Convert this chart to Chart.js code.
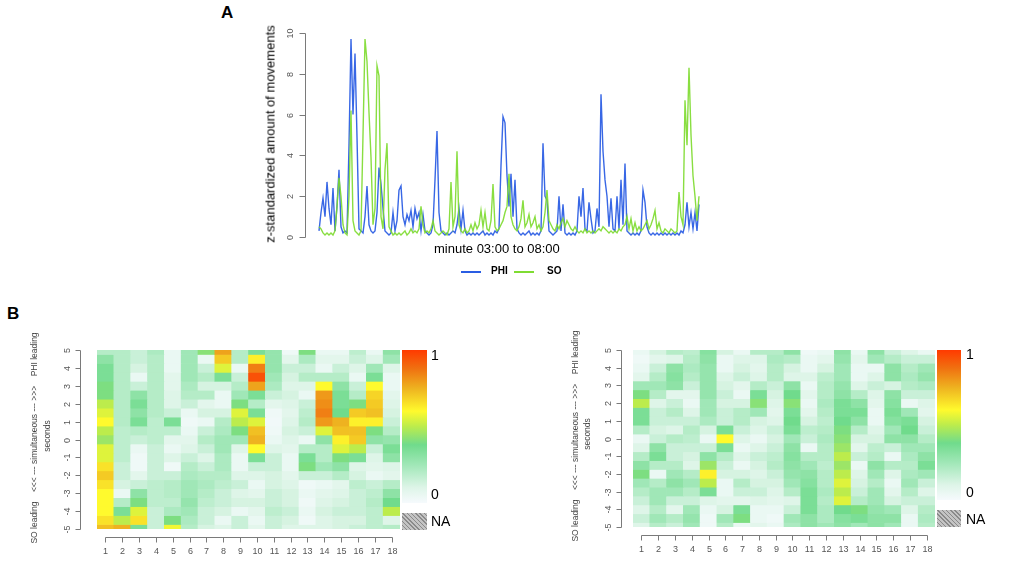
<!DOCTYPE html>
<html>
<head>
<meta charset="utf-8">
<script src="https://cdn.jsdelivr.net/npm/chart.js@4.4.1/dist/chart.umd.min.js"></script>
<style>
  body { margin: 0; background: #fff; font-family: "Liberation Sans", Arial, sans-serif; }
  #wrap { position: relative; width: 1021px; height: 567px; overflow: hidden; background: #fff; }
  #wrap canvas, #wrap .txt, #wrap .bar, #wrap .na, #wrap .key { position: absolute; }
  .txt { white-space: nowrap; color: #000; }
  .rot { transform: translate(-50%, -50%) rotate(-90deg); }
  .panel { font-weight: bold; font-size: 17px; }
  .na { background: repeating-linear-gradient(45deg, #8a8a8a 0 1px, #c4c4c4 1px 3px); }
  .key { height: 2px; width: 20px; }
</style>
</head>
<body>
<div id="wrap">
  <div class="txt panel" style="left:221px;top:3px;">A</div>
  <div class="txt panel" style="left:7px;top:304px;">B</div>

  <canvas id="lineChart" width="520" height="262" style="left:200px;top:0;"></canvas>
  <div class="txt rot" style="left:270px;top:134px;font-size:13px;">z-standardized amount of movements</div>
  <div class="txt" style="left:434px;top:241px;font-size:13px;">minute 03:00 to 08:00</div>
  <div class="key" style="left:461px;top:271px;background:#2a5de3;"></div>
  <div class="txt" style="left:491px;top:265px;font-size:10px;font-weight:bold;">PHI</div>
  <div class="key" style="left:514px;top:271px;background:#7fdc32;"></div>
  <div class="txt" style="left:547px;top:265px;font-size:10px;font-weight:bold;">SO</div>

  <canvas id="heatLeft" width="460" height="237" style="left:0;top:330px;"></canvas>
  <div class="txt rot" style="left:34px;top:438px;font-size:8.5px;color:#444;">SO leading&nbsp;&nbsp;&nbsp;&nbsp;&lt;&lt;&lt; --- simultaneous --- &gt;&gt;&gt;&nbsp;&nbsp;&nbsp;&nbsp;PHI leading</div>
  <div class="txt rot" style="left:47px;top:436px;font-size:8.5px;color:#444;">seconds</div>
  <div class="bar" id="barLeft" style="left:402px;top:350px;width:25px;height:153px;"></div>
  <div class="na" style="left:402px;top:513px;width:25px;height:17px;"></div>
  <div class="txt" style="left:431px;top:347px;font-size:14px;">1</div>
  <div class="txt" style="left:431px;top:486px;font-size:14px;">0</div>
  <div class="txt" style="left:431px;top:513px;font-size:14px;">NA</div>

  <canvas id="heatRight" width="400" height="237" style="left:560px;top:330px;"></canvas>
  <div class="txt rot" style="left:575px;top:436px;font-size:8.5px;color:#444;">SO leading&nbsp;&nbsp;&nbsp;&nbsp;&lt;&lt;&lt; --- simultaneous --- &gt;&gt;&gt;&nbsp;&nbsp;&nbsp;&nbsp;PHI leading</div>
  <div class="txt rot" style="left:587px;top:434px;font-size:8.5px;color:#444;">seconds</div>
  <div class="bar" id="barRight" style="left:937px;top:350px;width:24px;height:150px;"></div>
  <div class="na" style="left:937px;top:510px;width:24px;height:17px;"></div>
  <div class="txt" style="left:966px;top:346px;font-size:14px;">1</div>
  <div class="txt" style="left:966px;top:484px;font-size:14px;">0</div>
  <div class="txt" style="left:966px;top:511px;font-size:14px;">NA</div>
</div>

<script>
// ---- panel A : movement series (one value every sample along 03:00-08:00)
const phi = [
  0.3, 1.2, 1.9, 1.0, 2.7, 1.4, 0.6, 2.4, 0.3, 1.5, 3.3, 0.5, 0.2, 0.3, 0.2, 4.5, 9.7, 6.0, 9.0, 4.9,
  0.4, 0.3, 0.2, 1.0, 2.5, 0.6, 0.3, 0.2, 0.3, 1.2, 3.4, 2.6, 1.4, 0.3, 0.2, 0.1, 0.2, 1.2, 0.3, 0.8,
  2.3, 2.5, 1.0, 0.6, 1.1, 0.8, 1.3, 0.5, 1.4, 0.9, 1.2, 0.3, 1.1, 0.3, 0.2, 0.1, 0.2, 0.6, 2.8, 5.2,
  1.2, 0.3, 0.2, 0.1, 0.2, 0.1, 0.2, 0.3, 0.2, 0.6, 1.4, 0.4, 1.3, 0.3, 0.1, 0.2, 0.1, 0.2, 0.1, 0.2,
  0.1, 0.2, 0.3, 0.1, 0.2, 0.1, 0.2, 0.1, 0.3, 0.2, 0.4, 3.5, 5.9, 5.6, 3.0, 1.5, 3.1, 1.0, 2.8, 0.4,
  0.2, 0.1, 0.2, 0.1, 0.2, 0.3, 0.1, 0.2, 0.1, 0.2, 0.1, 0.3, 4.6, 2.0, 1.8, 0.3, 0.2, 0.1, 0.2, 0.3,
  2.0, 0.3, 1.6, 0.2, 0.1, 0.2, 0.1, 0.2, 0.1, 0.3, 2.0, 1.0, 2.4, 0.4, 0.3, 1.7, 0.9, 0.2, 0.3, 1.4,
  0.5, 7.0, 4.2, 2.8, 2.0, 0.5, 1.9, 0.4, 0.3, 2.0, 0.4, 2.8, 0.6, 3.6, 0.3, 0.2, 0.1, 0.2, 0.1, 0.2,
  0.1, 0.3, 2.3, 1.7, 0.5, 0.2, 0.1, 0.2, 0.1, 0.2, 0.1, 0.2, 0.1, 0.2, 0.1, 0.2, 0.1, 0.2, 0.1, 0.2,
  0.1, 0.3, 0.2, 0.6, 1.7, 0.5, 1.2, 0.4, 1.2, 0.3, 1.6
];
const so = [
  0.5, 0.4, 0.2, 0.1, 0.2, 0.1, 0.2, 0.1, 0.3, 1.5, 2.9, 2.0, 0.6, 0.2, 0.1, 2.0, 6.2, 0.8, 0.3, 0.2,
  0.1, 0.3, 5.0, 9.7, 8.6, 6.1, 3.9, 0.6, 1.4, 8.4, 7.9, 1.0, 0.4, 3.3, 4.6, 0.5, 0.3, 0.1, 0.2, 0.1,
  0.2, 0.1, 0.2, 0.3, 0.1, 0.2, 0.4, 0.2, 0.3, 0.2, 0.4, 1.5, 0.6, 0.2, 0.3, 0.2, 0.4, 0.8, 0.3, 0.2,
  0.1, 0.2, 0.3, 0.2, 0.1, 0.4, 2.7, 0.5, 1.0, 4.2, 0.6, 0.3, 0.2, 0.4, 0.2, 0.3, 0.6, 0.3, 0.7, 0.4,
  0.6, 1.3, 0.5, 1.2, 0.4, 0.3, 0.8, 2.6, 0.5, 0.3, 0.4, 0.6, 0.8, 1.2, 1.5, 3.1, 1.0, 0.6, 0.4, 0.3,
  0.5, 0.9, 1.8, 0.5, 0.7, 1.1, 0.5, 0.7, 1.0, 0.4, 0.6, 0.3, 0.5, 1.2, 2.3, 0.8, 0.6, 0.4, 0.3, 0.6,
  0.4, 0.7, 0.9, 0.5, 0.8, 0.6, 0.4, 0.3, 0.5, 0.3, 0.2, 0.3, 0.2, 0.4, 0.2, 0.3, 0.2, 0.3, 0.2, 0.3,
  0.4, 0.3, 0.5, 0.4, 0.3, 0.2, 0.3, 0.2, 0.3, 0.2, 0.4, 0.3, 0.5, 0.6, 1.0, 0.4, 0.9, 0.3, 0.7, 0.3,
  0.5, 0.3, 0.4, 0.6, 0.8, 0.4, 0.6, 0.9, 1.3, 0.4, 0.7, 0.3, 0.2, 0.4, 0.3, 0.2, 0.4, 0.3, 0.2, 0.3,
  2.2, 1.0, 0.6, 6.7, 4.5, 8.3, 5.0, 3.0, 2.0, 0.8, 2.0
];
const movementTicks = [0, 2, 4, 6, 8, 10];

// ---- panel B : cross-correlation heatmaps, one array per dyad (rows = seconds, top to bottom)
const seconds = [5, 4.5, 4, 3.5, 3, 2.5, 2, 1.5, 1, 0.5, 0, -0.5, -1, -1.5, -2, -2.5, -3, -3.5, -4, -4.5, -5];
const secondTicks = [-5, -4, -3, -2, -1, 0, 1, 2, 3, 4, 5];
const dyads = [1, 2, 3, 4, 5, 6, 7, 8, 9, 10, 11, 12, 13, 14, 15, 16, 17, 18];

const leftCols = [
  [0.2, 0.3, 0.35, 0.35, 0.4, 0.4, 0.5, 0.55, 0.6, 0.5, 0.45, 0.55, 0.55, 0.65, 0.7, 0.65, 0.6, 0.6, 0.6, 0.65, 0.72],
  [0.2, 0.2, 0.2, 0.2, 0.2, 0.2, 0.2, 0.2, 0.2, 0.18, 0.18, 0.18, 0.18, 0.15, 0.15, 0.12, 0.05, 0.2, 0.35, 0.5, 0.75],
  [0.15, 0.15, 0.12, 0.05, 0.15, 0.3, 0.35, 0.3, 0.35, 0.2, 0.15, 0.05, 0.03, 0.03, 0.08, 0.15, 0.3, 0.4, 0.55, 0.65, 0.35],
  [0.22, 0.2, 0.2, 0.2, 0.2, 0.2, 0.2, 0.2, 0.18, 0.18, 0.18, 0.15, 0.15, 0.15, 0.15, 0.18, 0.18, 0.18, 0.15, 0.15, 0.15],
  [0.05, 0.05, 0.05, 0.08, 0.08, 0.1, 0.1, 0.15, 0.35, 0.18, 0.08, 0.05, 0.1, 0.03, 0.15, 0.2, 0.2, 0.18, 0.22, 0.4, 0.58],
  [0.25, 0.25, 0.25, 0.25, 0.22, 0.2, 0.15, 0.05, 0.03, 0.05, 0.08, 0.1, 0.15, 0.2, 0.22, 0.25, 0.25, 0.28, 0.25, 0.22, 0.2],
  [0.42, 0.05, 0.15, 0.2, 0.12, 0.2, 0.08, 0.12, 0.05, 0.15, 0.2, 0.15, 0.1, 0.15, 0.2, 0.22, 0.2, 0.18, 0.15, 0.15, 0.12],
  [0.78, 0.7, 0.55, 0.35, 0.12, 0.05, 0.05, 0.12, 0.2, 0.22, 0.25, 0.25, 0.22, 0.22, 0.2, 0.18, 0.15, 0.15, 0.12, 0.05, 0.1],
  [0.2, 0.2, 0.05, 0.15, 0.2, 0.25, 0.4, 0.55, 0.5, 0.4, 0.25, 0.1, 0.05, 0.05, 0.1, 0.15, 0.1, 0.12, 0.05, 0.15, 0.15],
  [0.35, 0.62, 0.85, 0.95, 0.78, 0.35, 0.2, 0.35, 0.55, 0.72, 0.75, 0.6, 0.35, 0.15, 0.1, 0.05, 0.08, 0.12, 0.08, 0.05, 0.08],
  [0.28, 0.28, 0.28, 0.25, 0.22, 0.15, 0.08, 0.03, 0.02, 0.03, 0.05, 0.1, 0.15, 0.15, 0.12, 0.12, 0.15, 0.15, 0.18, 0.15, 0.15],
  [0.03, 0.08, 0.15, 0.12, 0.1, 0.12, 0.1, 0.08, 0.1, 0.12, 0.1, 0.08, 0.05, 0.05, 0.08, 0.1, 0.12, 0.12, 0.15, 0.12, 0.1],
  [0.4, 0.22, 0.15, 0.2, 0.1, 0.05, 0.15, 0.18, 0.2, 0.15, 0.05, 0.2, 0.35, 0.4, 0.15, 0.03, 0.05, 0.03, 0.05, 0.03, 0.1],
  [0.05, 0.08, 0.05, 0.2, 0.6, 0.8, 0.82, 0.85, 0.8, 0.55, 0.3, 0.2, 0.2, 0.25, 0.15, 0.05, 0.08, 0.1, 0.12, 0.1, 0.1],
  [0.05, 0.08, 0.15, 0.2, 0.3, 0.35, 0.35, 0.38, 0.75, 0.72, 0.62, 0.55, 0.4, 0.3, 0.2, 0.08, 0.1, 0.12, 0.15, 0.12, 0.12],
  [0.18, 0.15, 0.1, 0.05, 0.15, 0.2, 0.4, 0.7, 0.62, 0.72, 0.7, 0.5, 0.35, 0.1, 0.12, 0.18, 0.15, 0.15, 0.15, 0.12, 0.15],
  [0.05, 0.1, 0.25, 0.35, 0.6, 0.68, 0.7, 0.72, 0.62, 0.4, 0.3, 0.15, 0.1, 0.08, 0.05, 0.15, 0.18, 0.2, 0.18, 0.18, 0.18],
  [0.3, 0.25, 0.1, 0.05, 0.05, 0.08, 0.1, 0.12, 0.15, 0.2, 0.28, 0.35, 0.3, 0.1, 0.08, 0.2, 0.3, 0.38, 0.5, 0.1, 0.2]
];
const rightCols = [
  [0.05, 0.03, 0.05, 0.08, 0.25, 0.4, 0.5, 0.35, 0.35, 0.2, 0.05, 0.1, 0.2, 0.3, 0.4, 0.25, 0.2, 0.15, 0.1, 0.15, 0.1],
  [0.12, 0.08, 0.15, 0.2, 0.25, 0.2, 0.1, 0.15, 0.15, 0.12, 0.15, 0.3, 0.35, 0.2, 0.05, 0.2, 0.25, 0.25, 0.2, 0.25, 0.2],
  [0.2, 0.1, 0.3, 0.32, 0.3, 0.08, 0.15, 0.2, 0.15, 0.1, 0.2, 0.15, 0.15, 0.2, 0.25, 0.3, 0.25, 0.15, 0.08, 0.2, 0.15],
  [0.18, 0.2, 0.22, 0.2, 0.15, 0.08, 0.05, 0.1, 0.15, 0.2, 0.18, 0.15, 0.12, 0.1, 0.2, 0.25, 0.2, 0.15, 0.25, 0.28, 0.25],
  [0.32, 0.3, 0.28, 0.28, 0.28, 0.28, 0.25, 0.25, 0.22, 0.12, 0.05, 0.15, 0.3, 0.45, 0.62, 0.5, 0.35, 0.1, 0.05, 0.03, 0.03],
  [0.12, 0.05, 0.05, 0.1, 0.12, 0.15, 0.12, 0.15, 0.15, 0.35, 0.6, 0.35, 0.2, 0.15, 0.12, 0.05, 0.05, 0.08, 0.12, 0.25, 0.2],
  [0.05, 0.1, 0.12, 0.15, 0.08, 0.05, 0.12, 0.2, 0.2, 0.15, 0.1, 0.05, 0.1, 0.05, 0.12, 0.2, 0.15, 0.08, 0.35, 0.4, 0.05],
  [0.2, 0.1, 0.08, 0.1, 0.2, 0.35, 0.42, 0.25, 0.12, 0.1, 0.05, 0.1, 0.15, 0.12, 0.1, 0.12, 0.15, 0.1, 0.05, 0.05, 0.08],
  [0.2, 0.22, 0.2, 0.2, 0.15, 0.12, 0.1, 0.08, 0.1, 0.15, 0.12, 0.15, 0.18, 0.2, 0.15, 0.12, 0.1, 0.08, 0.05, 0.03, 0.05],
  [0.3, 0.2, 0.12, 0.1, 0.3, 0.38, 0.42, 0.35, 0.38, 0.35, 0.25, 0.3, 0.32, 0.3, 0.28, 0.25, 0.2, 0.1, 0.15, 0.25, 0.22],
  [0.03, 0.05, 0.05, 0.1, 0.05, 0.08, 0.05, 0.08, 0.12, 0.18, 0.15, 0.05, 0.2, 0.25, 0.3, 0.32, 0.35, 0.35, 0.35, 0.3, 0.3],
  [0.05, 0.08, 0.12, 0.18, 0.2, 0.2, 0.22, 0.2, 0.18, 0.2, 0.22, 0.2, 0.2, 0.18, 0.2, 0.2, 0.22, 0.2, 0.22, 0.22, 0.25],
  [0.3, 0.28, 0.25, 0.25, 0.28, 0.3, 0.35, 0.35, 0.38, 0.4, 0.42, 0.45, 0.5, 0.45, 0.5, 0.55, 0.5, 0.55, 0.38, 0.32, 0.3],
  [0.05, 0.08, 0.05, 0.05, 0.1, 0.2, 0.3, 0.35, 0.3, 0.2, 0.12, 0.08, 0.15, 0.05, 0.1, 0.12, 0.15, 0.2, 0.4, 0.35, 0.25],
  [0.3, 0.25, 0.05, 0.1, 0.15, 0.1, 0.08, 0.05, 0.05, 0.1, 0.12, 0.18, 0.2, 0.3, 0.25, 0.2, 0.25, 0.25, 0.28, 0.3, 0.3],
  [0.15, 0.2, 0.3, 0.3, 0.12, 0.3, 0.32, 0.35, 0.32, 0.25, 0.3, 0.15, 0.05, 0.2, 0.1, 0.05, 0.08, 0.12, 0.25, 0.3, 0.25],
  [0.1, 0.15, 0.2, 0.22, 0.2, 0.15, 0.05, 0.25, 0.35, 0.38, 0.3, 0.25, 0.22, 0.2, 0.22, 0.25, 0.2, 0.15, 0.1, 0.05, 0.05],
  [0.05, 0.15, 0.25, 0.28, 0.22, 0.15, 0.1, 0.08, 0.12, 0.15, 0.2, 0.25, 0.3, 0.35, 0.25, 0.15, 0.1, 0.15, 0.2, 0.22, 0.2]
];

// colour ramp 0 -> 1 (white, green, yellow, orange, red)
const rampStops = [
  [0, [246, 250, 253]],
  [0.1, [222, 245, 232]],
  [0.25, [160, 231, 183]],
  [0.38, [112, 219, 140]],
  [0.5, [188, 236, 76]],
  [0.6, [255, 250, 45]],
  [0.75, [238, 178, 32]],
  [0.88, [240, 112, 16]],
  [1, [255, 58, 0]]
];
function ramp(v) {
  v = Math.max(0, Math.min(1, v));
  for (let i = 1; i < rampStops.length; i++) {
    const [p1, c1] = rampStops[i];
    if (v <= p1) {
      const [p0, c0] = rampStops[i - 1];
      const t = (v - p0) / (p1 - p0);
      const c = c0.map((a, k) => Math.round(a + (c1[k] - a) * t));
      return `rgb(${c.join(",")})`;
    }
  }
  return "rgb(255,58,0)";
}
const gradient = "linear-gradient(to top, " +
  rampStops.map(([p, c]) => `rgb(${c.join(",")}) ${p * 100}%`).join(", ") + ")";
document.getElementById("barLeft").style.background = gradient;
document.getElementById("barRight").style.background = gradient;

// R style axes: line only between first and last tick, outward ticks, rotated y labels
const rAxes = {
  id: "rAxes",
  afterDraw(chart, args, o) {
    const ctx = chart.ctx;
    const area = chart.chartArea;
    ctx.save();
    ctx.strokeStyle = "#7a7a7a";
    ctx.fillStyle = "#555";
    ctx.lineWidth = 1;
    ctx.font = `${o.size}px "Liberation Sans", Arial, sans-serif`;
    ctx.textAlign = "center";
    ctx.textBaseline = "middle";
    const seg = (x1, y1, x2, y2) => {
      ctx.beginPath();
      ctx.moveTo(x1, y1);
      ctx.lineTo(x2, y2);
      ctx.stroke();
    };
    if (o.y) {
      const sc = chart.scales.y;
      const x0 = Math.round(area.left - o.y.gap) + 0.5;
      const py = o.y.ticks.map((v) => Math.round(sc.getPixelForValue(v)) + 0.5);
      seg(x0, Math.min(...py), x0, Math.max(...py));
      o.y.ticks.forEach((v, i) => {
        seg(x0, py[i], x0 - o.tick, py[i]);
        ctx.save();
        ctx.translate(x0 - o.y.lab, py[i]);
        ctx.rotate(-Math.PI / 2);
        ctx.fillText(String(v), 0, 0);
        ctx.restore();
      });
    }
    if (o.x) {
      const sc = chart.scales.x;
      const y0 = Math.round(area.bottom + o.x.gap) + 0.5;
      const px = o.x.ticks.map((v) => Math.round(sc.getPixelForValue(v)) + 0.5);
      seg(Math.min(...px), y0, Math.max(...px), y0);
      o.x.ticks.forEach((v, i) => {
        seg(px[i], y0, px[i], y0 + o.tick);
        ctx.fillText(String(v), px[i], y0 + o.x.lab);
      });
    }
    ctx.restore();
  }
};

// ---- panel A chart
new Chart(document.getElementById("lineChart"), {
  type: "line",
  data: {
    datasets: [
      {
        label: "PHI",
        data: phi.map((v, i) => ({ x: i, y: v })),
        borderColor: "rgba(34, 86, 226, 0.9)",
        borderWidth: 1.4,
        pointRadius: 0,
        order: 1,
      },
      {
        label: "SO",
        data: so.map((v, i) => ({ x: i, y: v })),
        borderColor: "rgba(124, 218, 44, 0.9)",
        borderWidth: 1.4,
        pointRadius: 0,
        order: 0,
      },
    ],
  },
  options: {
    responsive: false,
    animation: false,
    layout: { padding: { left: 105, right: 7, top: 33, bottom: 25 } },
    plugins: {
      legend: { display: false },
      tooltip: { enabled: false },
      rAxes: { size: 9, tick: 6, y: { ticks: movementTicks, gap: 0, lab: 15 } },
    },
    scales: {
      x: { type: "linear", display: false, min: -7, max: 197 },
      y: { display: false, min: 0, max: 10 },
    },
  },
  plugins: [rAxes],
});

// ---- panel B heatmaps: one floating-bar dataset per seconds row
function heatmap(id, cols, pad, gapY, gapX) {
  const half = (seconds[0] - seconds[1]) / 2;
  const datasets = seconds.map((s, r) => ({
    data: dyads.map((d) => ({ x: d, y: [s - half, s + half] })),
    backgroundColor: dyads.map((d, j) => ramp(cols[j][r])),
    borderWidth: 0,
    grouped: false,
    barPercentage: 1,
    categoryPercentage: 1,
    clip: 0,
  }));
  new Chart(document.getElementById(id), {
    type: "bar",
    data: { datasets },
    options: {
      responsive: false,
      animation: false,
      layout: { padding: pad },
      plugins: {
        legend: { display: false },
        tooltip: { enabled: false },
        rAxes: {
          size: 9,
          tick: 5,
          y: { ticks: secondTicks, gap: gapY, lab: 13 },
          x: { ticks: dyads, gap: gapX, lab: 14 },
        },
      },
      scales: {
        x: { type: "linear", display: false, offset: false, min: 0.5, max: 18.5 },
        y: { display: false, min: -5, max: 5 },
      },
    },
    plugins: [rAxes],
  });
}
heatmap("heatLeft", leftCols, { left: 97, right: 60, top: 20, bottom: 38 }, 17, 8);
heatmap("heatRight", rightCols, { left: 73, right: 25, top: 20, bottom: 40 }, 12, 8);
</script>
</body>
</html>
